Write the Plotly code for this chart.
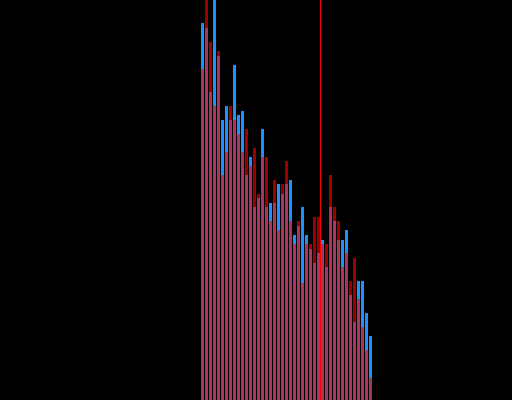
import plotly.graph_objects as go

bins = list(range(43))
blue_counts = [377, 372, 308, 415, 344, 280, 294, 280, 335, 285, 289, 225, 243, 193, 202,
               271, 193, 197, 197, 216, 206, 216, 220, 165, 174, 193, 165, 151, 137, 147,
               160, 133, 193, 179, 160, 160, 170, 105, 78, 119, 119, 87, 64]
red_counts = [331, 410, 358, 294, 349, 225, 248, 294, 280, 266, 248, 271, 234, 252, 206,
              243, 243, 179, 220, 170, 216, 239, 179, 156, 179, 117, 156, 156, 183, 183,
              156, 156, 225, 193, 179, 133, 147, 119, 142, 101, 73, 50, 22]
marker_x = 29.5

fig = go.Figure()
fig.add_trace(go.Bar(x=bins, y=blue_counts, width=0.75,
                     marker=dict(color="#1e90ff", line=dict(width=0))))
fig.add_trace(go.Bar(x=bins, y=red_counts, width=0.75, opacity=0.62,
                     marker=dict(color="#ff0000", line=dict(width=0))))
fig.add_shape(type="line", x0=marker_x, x1=marker_x, y0=0, y1=1, yref="paper",
              line=dict(color="#ff0000", width=1))

fig.update_layout(
    width=512, height=400,
    margin=dict(l=0, r=0, t=0, b=0),
    paper_bgcolor="black", plot_bgcolor="black",
    barmode="overlay", showlegend=False,
    xaxis=dict(range=[-50.625, 77.375], visible=False),
    yaxis=dict(range=[0, 400], visible=False),
)
fig.write_html(
    "out.html",
    config={"displayModeBar": False},
    post_script="document.body.style.margin='0';document.body.style.background='black';document.body.style.overflow='hidden';",
)
